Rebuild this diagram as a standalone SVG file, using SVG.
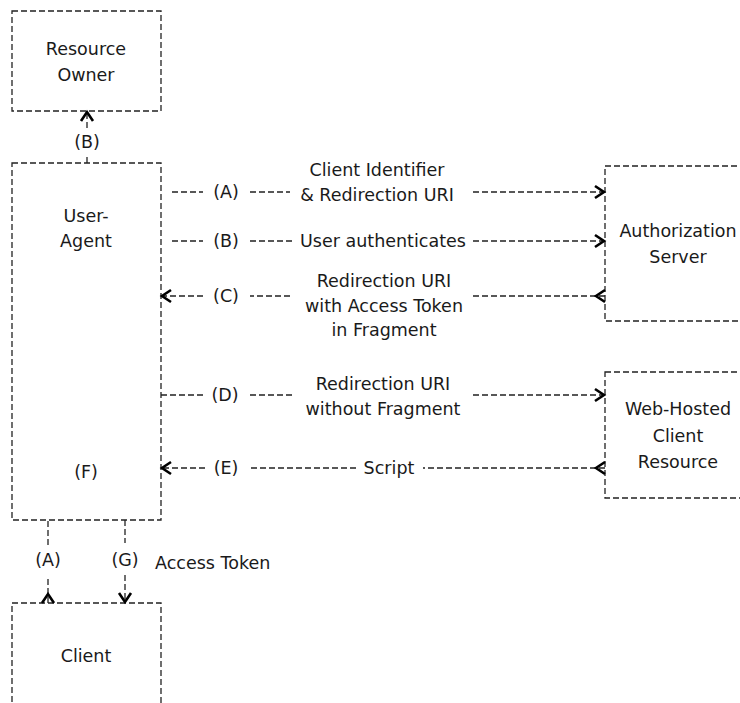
<svg xmlns="http://www.w3.org/2000/svg" width="740" height="703" viewBox="0 0 740 703">
  <style>
    .box { fill: #ffffff; stroke: #222; stroke-width: 1.3; stroke-dasharray: 6 3; }
    .ln { fill: none; stroke: #222; stroke-width: 1.3; stroke-dasharray: 6 3; }
    .chev { fill: none; stroke: #000; stroke-width: 2.6; stroke-dasharray: none; stroke-linecap: butt; stroke-linejoin: miter; }
    .t { font-family: "DejaVu Sans", "Liberation Sans", sans-serif; font-size: 17.5px; fill: #1a1a1a; text-anchor: middle; }
    .ts { font-family: "DejaVu Sans", "Liberation Sans", sans-serif; font-size: 17.5px; fill: #1a1a1a; text-anchor: start; }
  </style>
  <defs>
    <marker id="head" markerUnits="userSpaceOnUse" viewBox="-14 -10 28 20" markerWidth="28" markerHeight="20" refX="0" refY="0" orient="auto">
      <path class="chev" d="M-9,-6 L0,0 L-9,6"/>
    </marker>
    <marker id="tail" markerUnits="userSpaceOnUse" viewBox="-14 -10 28 20" markerWidth="28" markerHeight="20" refX="0" refY="0" orient="auto">
      <path class="chev" d="M0,-6 L9,0 L0,6"/>
    </marker>
  </defs>

  <g id="resource-owner">
    <rect class="box" x="12" y="11" width="149" height="100"/>
    <text class="t" x="86" y="55">Resource</text>
    <text class="t" x="86" y="81">Owner</text>
  </g>

  <g id="user-agent">
    <rect class="box" x="12" y="163" width="149" height="357"/>
    <text class="t" x="86" y="222">User-</text>
    <text class="t" x="86" y="247">Agent</text>
    <text class="t" x="86" y="478">(F)</text>
  </g>

  <g id="client">
    <rect class="box" x="12" y="603" width="149" height="130"/>
    <text class="t" x="86" y="662">Client</text>
  </g>

  <g id="authorization-server">
    <rect class="box" x="605" y="166" width="160" height="155"/>
    <text class="t" x="678" y="237">Authorization</text>
    <text class="t" x="678" y="263">Server</text>
  </g>

  <g id="web-hosted-client-resource">
    <rect class="box" x="605" y="372" width="160" height="126"/>
    <text class="t" x="678" y="415">Web-Hosted</text>
    <text class="t" x="678" y="442">Client</text>
    <text class="t" x="678" y="468">Resource</text>
  </g>

  <g id="connectors">
    <!-- (B) User-Agent to Resource Owner -->
    <path class="ln" d="M87,128 L87,112" marker-end="url(#head)"/>
    <path class="ln" d="M87,163 L87,157"/>
    <text class="t" x="87" y="148">(B)</text>

    <!-- (A) Client Identifier & Redirection URI -->
    <path class="ln" d="M172,192 L203,192"/>
    <text class="t" x="226" y="198">(A)</text>
    <path class="ln" d="M250,192 L290,192"/>
    <text class="t" x="377" y="176">Client Identifier</text>
    <text class="t" x="377" y="201">&amp; Redirection URI</text>
    <path class="ln" d="M473,192 L604,192" marker-end="url(#head)"/>

    <!-- (B) User authenticates -->
    <path class="ln" d="M172,241 L203,241"/>
    <text class="t" x="226" y="247">(B)</text>
    <path class="ln" d="M250,241 L294,241"/>
    <text class="t" x="383" y="247">User authenticates</text>
    <path class="ln" d="M473,241 L604,241" marker-end="url(#head)"/>

    <!-- (C) Redirection URI with Access Token in Fragment -->
    <path class="ln" d="M605,296 L473,296" marker-start="url(#tail)"/>
    <text class="t" x="384" y="287">Redirection URI</text>
    <text class="t" x="384" y="312">with Access Token</text>
    <text class="t" x="384" y="336">in Fragment</text>
    <path class="ln" d="M290,296 L250,296"/>
    <text class="t" x="226" y="302">(C)</text>
    <path class="ln" d="M203,296 L162,296" marker-end="url(#head)"/>

    <!-- (D) Redirection URI without Fragment -->
    <path class="ln" d="M161,395 L203,395"/>
    <text class="t" x="225" y="401">(D)</text>
    <path class="ln" d="M250,395 L293,395"/>
    <text class="t" x="383" y="390">Redirection URI</text>
    <text class="t" x="383" y="415">without Fragment</text>
    <path class="ln" d="M473,395 L604,395" marker-end="url(#head)"/>

    <!-- (E) Script -->
    <path class="ln" d="M605,468 L423,468" marker-start="url(#tail)"/>
    <text class="t" x="389" y="474">Script</text>
    <path class="ln" d="M356,468 L250,468"/>
    <text class="t" x="226" y="474">(E)</text>
    <path class="ln" d="M205,468 L162,468" marker-end="url(#head)"/>

    <!-- (A) Client to User-Agent -->
    <path class="ln" d="M48,603 L48,577" marker-start="url(#tail)"/>
    <text class="t" x="48" y="566">(A)</text>
    <path class="ln" d="M48,545 L48,520"/>

    <!-- (G) Access Token -->
    <path class="ln" d="M125,520 L125,543"/>
    <text class="t" x="125" y="566">(G)</text>
    <path class="ln" d="M125,575 L125,602" marker-end="url(#head)"/>
    <text class="ts" x="155" y="569">Access Token</text>
  </g>
</svg>
